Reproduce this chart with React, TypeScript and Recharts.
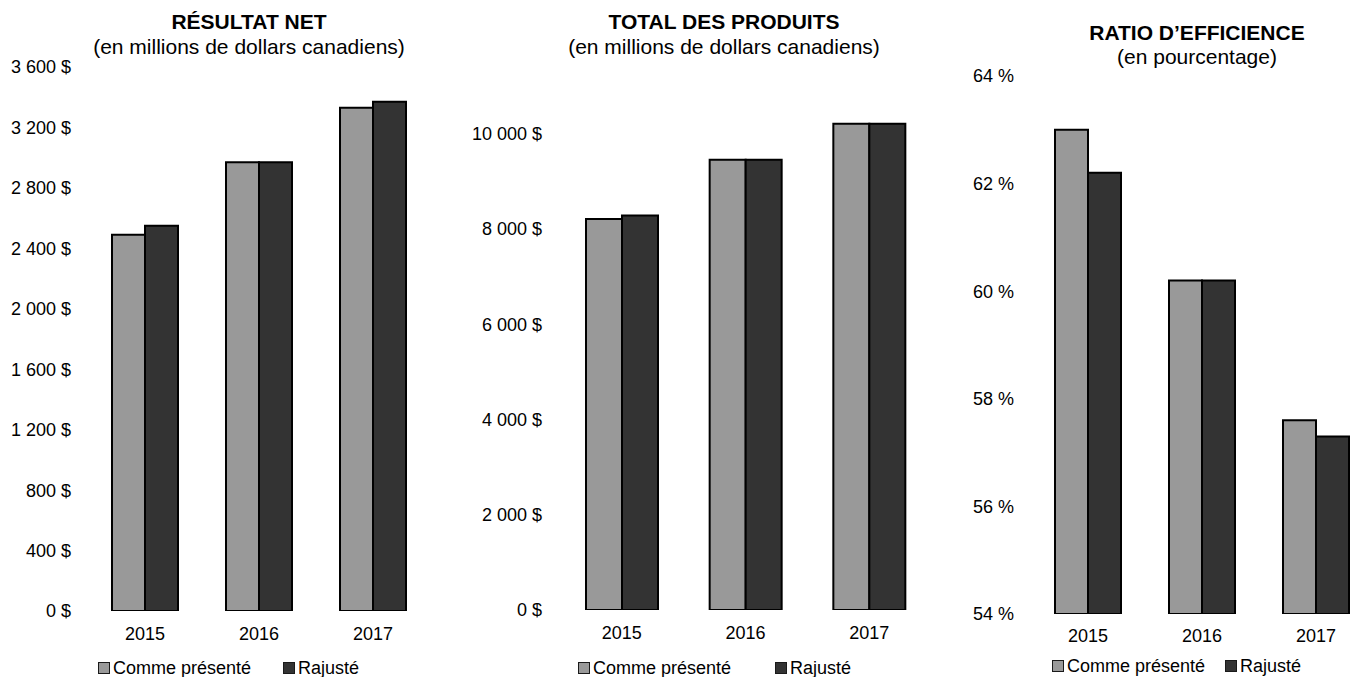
import { BarChart, Bar, XAxis, YAxis } from 'recharts'

const YEARS = ['2015', '2016', '2017']
const SERIES = ['Comme présenté', 'Rajusté']

const NET_PRESENTED = [2490, 2970, 3330]
const NET_ADJUSTED = [2550, 2970, 3370]
const NET_TICKS = [0, 400, 800, 1200, 1600, 2000, 2400, 2800, 3200, 3600]

const REV_PRESENTED = [8210, 9450, 10210]
const REV_ADJUSTED = [8280, 9450, 10210]
const REV_TICKS = [0, 2000, 4000, 6000, 8000, 10000]

const EFF_PRESENTED = [63.0, 60.2, 57.6]
const EFF_ADJUSTED = [62.2, 60.2, 57.3]
const EFF_TICKS = [54, 56, 58, 60, 62, 64]

const LIGHT = '#999999'
const DARK = '#333333'
const H = 677

const money = (v: number) => String(v).replace(/\B(?=(\d{3})+(?!\d))/g, ' ') + ' $'
const pct = (v: number) => `${v} %`

const build = (a: number[], b: number[]) =>
  YEARS.map((year, i) => ({ year, presented: a[i], adjusted: b[i] }))

type PanelProps = {
  left: number
  width: number
  axisW: number
  tickGap: number
  plotTop: number
  plotBottom: number
  barSize: number
  domain: [number, number]
  ticks: number[]
  fmt: (v: number) => string
  data: { year: string; presented: number; adjusted: number }[]
  xTickMargin: number
}

function Panel(p: PanelProps) {
  return (
    <div style={{ position: 'absolute', left: p.left, top: 0 }}>
      <BarChart
        width={p.width}
        height={H}
        data={p.data}
        barGap={0}
        margin={{ top: p.plotTop, right: 0, bottom: H - p.plotBottom - 30, left: 0 }}
      >
        <XAxis
          dataKey="year"
          axisLine={false}
          tickLine={false}
          tickSize={0}
          tickMargin={p.xTickMargin}
          height={30}
          tick={{ fill: '#000', fontSize: 18 }}
        />
        <YAxis
          width={p.axisW}
          domain={p.domain}
          ticks={p.ticks}
          interval={0}
          allowDataOverflow
          axisLine={false}
          tickLine={false}
          tickSize={0}
          tickMargin={p.tickGap}
          tickFormatter={p.fmt}
          tick={{ fill: '#000', fontSize: 18 }}
        />
        <Bar dataKey="presented" fill={LIGHT} stroke="#000" strokeWidth={2} barSize={p.barSize} isAnimationActive={false} />
        <Bar dataKey="adjusted" fill={DARK} stroke="#000" strokeWidth={2} barSize={p.barSize} isAnimationActive={false} />
      </BarChart>
    </div>
  )
}

function Title({ cx, top, title, subtitle, gap }: { cx: number; top: number; title: string; subtitle: string; gap: number }) {
  const base: React.CSSProperties = {
    position: 'absolute',
    left: cx - 300,
    width: 600,
    textAlign: 'center',
    fontSize: 21,
    lineHeight: '21px',
    color: '#000',
    whiteSpace: 'nowrap',
  }
  return (
    <>
      <div style={{ ...base, top, fontWeight: 'bold' }}>{title}</div>
      <div style={{ ...base, top: top + gap }}>{subtitle}</div>
    </>
  )
}

function Legend({ top, lefts }: { top: number; lefts: number[] }) {
  const fills = [LIGHT, DARK]
  return (
    <>
      {SERIES.map((name, i) => (
        <div
          key={name}
          style={{
            position: 'absolute',
            left: lefts[i],
            top,
            display: 'flex',
            alignItems: 'center',
            fontSize: 18,
            lineHeight: '18px',
            whiteSpace: 'nowrap',
            color: '#000',
          }}
        >
          <span
            style={{
              display: 'inline-block',
              width: 12,
              height: 12,
              boxSizing: 'border-box',
              border: '1.5px solid #1a1a1a',
              background: fills[i],
              marginRight: 3,
            }}
          />
          {name}
        </div>
      ))}
    </>
  )
}

export default function App() {
  return (
    <div
      style={{
        position: 'absolute',
        left: 0,
        top: 0,
        width: 1350,
        height: H,
        overflow: 'hidden',
        background: '#fff',
        fontFamily: '"Liberation Sans", Arial, sans-serif',
      }}
    >
      <Panel
        left={0}
        width={430}
        axisW={88}
        tickGap={17}
        plotTop={67}
        plotBottom={611}
        barSize={33}
        domain={[0, 3600]}
        ticks={NET_TICKS}
        fmt={money}
        data={build(NET_PRESENTED, NET_ADJUSTED)}
        xTickMargin={16}
      />
      <Panel
        left={460}
        width={471}
        axisW={100}
        tickGap={18}
        plotTop={86}
        plotBottom={610}
        barSize={36}
        domain={[0, 11000]}
        ticks={REV_TICKS}
        fmt={money}
        data={build(REV_PRESENTED, REV_ADJUSTED)}
        xTickMargin={16}
      />
      <Panel
        left={920}
        width={453}
        axisW={111}
        tickGap={17}
        plotTop={76}
        plotBottom={614}
        barSize={33}
        domain={[54, 64]}
        ticks={EFF_TICKS}
        fmt={pct}
        data={build(EFF_PRESENTED, EFF_ADJUSTED)}
        xTickMargin={15}
      />
      <Title cx={249} top={11} gap={25} title="RÉSULTAT NET" subtitle="(en millions de dollars canadiens)" />
      <Title cx={724} top={11} gap={25} title="TOTAL DES PRODUITS" subtitle="(en millions de dollars canadiens)" />
      <Title cx={1197} top={22} gap={24} title="RATIO D’EFFICIENCE" subtitle="(en pourcentage)" />
      <Legend top={659} lefts={[98, 283]} />
      <Legend top={659} lefts={[578, 775]} />
      <Legend top={657} lefts={[1052, 1225]} />
    </div>
  )
}
